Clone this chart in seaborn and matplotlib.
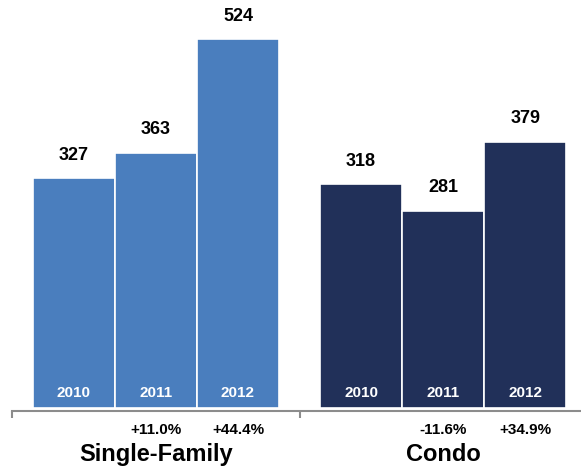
import matplotlib
matplotlib.use("Agg")
import matplotlib.pyplot as plt
import seaborn as sns
import pandas as pd

groups = ["Single-Family", "Condo"]
years = ["2010", "2011", "2012"]
single_family = [327, 363, 524]
condo = [318, 281, 379]
sf_change = ["", "+11.0%", "+44.4%"]
condo_change = ["", "-11.6%", "+34.9%"]

colors = {"Single-Family": "#4A7EBE", "Condo": "#213059"}

rows = []
for gi, (g, vals, chg) in enumerate(zip(groups, [single_family, condo], [sf_change, condo_change])):
    for yi, (yr, v, c) in enumerate(zip(years, vals, chg)):
        rows.append({"group": g, "year": yr, "value": v, "change": c,
                     "pos": gi * (len(years) + 0.5) + yi})
df = pd.DataFrame(rows)

sns.set_theme(style="white")
plt.rcParams["font.family"] = ["Liberation Sans", "DejaVu Sans"]

fig = plt.figure(figsize=(5.81, 4.71), dpi=100)
ax = fig.add_axes([0, 0.127, 1, 0.873])

sns.barplot(data=df, x="pos", y="value", hue="group", palette=colors,
            native_scale=True, width=1.0, dodge=False, edgecolor="white",
            linewidth=1.2, legend=False, ax=ax, saturation=1)

ax.set_xlim(-0.9, 6.18)
ax.set_ylim(-4, 580)

for _, r in df.iterrows():
    ax.annotate(str(r["value"]), (r["pos"], r["value"]), xytext=(0, 10.5),
                textcoords="offset points", ha="center", va="bottom",
                fontsize=13, fontweight="bold", color="black")
    ax.annotate(r["year"], (r["pos"], 0), xytext=(0, 11),
                textcoords="offset points", ha="center", va="center",
                fontsize=11, fontweight="bold", color="white")
    if r["change"]:
        ax.annotate(r["change"], (r["pos"], 0), xytext=(0, -15.6),
                    textcoords="offset points", ha="center", va="center",
                    fontsize=11, fontweight="bold", color="black",
                    annotation_clip=False)

for gi, g in enumerate(groups):
    center = df[df["group"] == g]["pos"].mean()
    ax.annotate(g, (center, 0), xytext=(0, -33), textcoords="offset points",
                ha="center", va="center", fontsize=17, fontweight="bold",
                color="black", annotation_clip=False)

for s in ["top", "right", "left"]:
    ax.spines[s].set_visible(False)
ax.spines["bottom"].set_color("#8C8C8C")
ax.spines["bottom"].set_linewidth(1.5)
ax.spines["bottom"].set_bounds(-0.75, 6.18)
ax.set_xticks([-0.75, 2.75])
ax.set_xticklabels([])
ax.tick_params(axis="x", direction="out", length=5, width=1.5, color="#8C8C8C", bottom=True)
ax.set_yticks([])
ax.set_xlabel("")
ax.set_ylabel("")
ax.grid(False)

fig.savefig("out.png", dpi=100)
